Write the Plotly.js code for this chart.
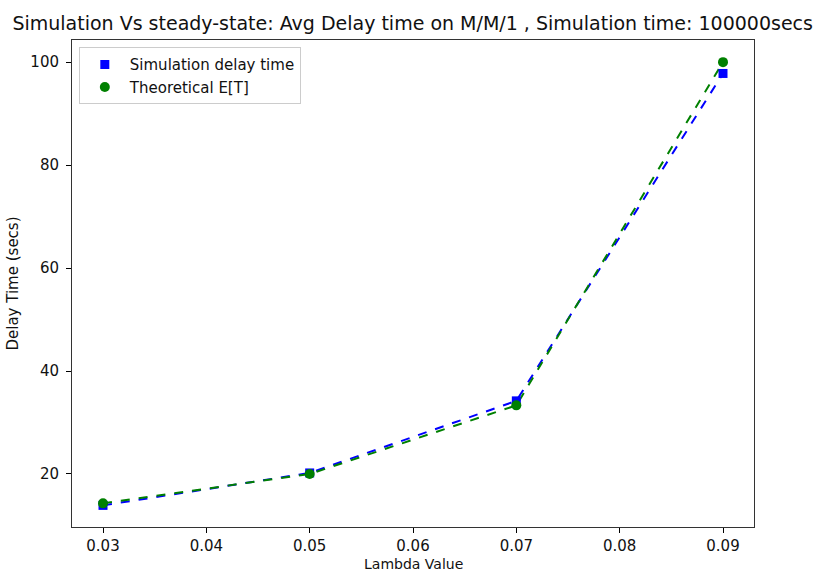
<!DOCTYPE html>
<html>
<head>
<meta charset="utf-8">
<script src="https://cdn.plot.ly/plotly-3.0.1.min.js"></script>
<style>html,body{margin:0;padding:0;background:#fff;}#chart{width:814px;height:572px;}</style>
</head>
<body>
<div id="chart"></div>
<script>
const lambdaValues = [0.03, 0.05, 0.07, 0.09];
const simulationDelay = [13.9, 20.2, 34.2, 97.8];
const theoreticalET = [14.29, 20.0, 33.33, 100.0];
const xTicks = [0.03, 0.04, 0.05, 0.06, 0.07, 0.08, 0.09];
const xTickLabels = ["0.03", "0.04", "0.05", "0.06", "0.07", "0.08", "0.09"];
const yTicks = [20, 40, 60, 80, 100];

const font = {family: "DejaVu Sans", size: 15, color: "#111"};
const traces = [
  {x: lambdaValues, y: simulationDelay, mode: "lines", line: {color: "#0000ff", width: 2, dash: "dash"}, showlegend: false, hoverinfo: "skip"},
  {x: lambdaValues, y: theoreticalET, mode: "lines", line: {color: "#008000", width: 2, dash: "dash"}, showlegend: false, hoverinfo: "skip"},
  {x: lambdaValues, y: simulationDelay, mode: "markers", name: "Simulation delay time", marker: {symbol: "square", color: "#0000ff", size: 9}},
  {x: lambdaValues, y: theoreticalET, mode: "markers", name: "Theoretical E[T]", marker: {symbol: "circle", color: "#008000", size: 10}}
];
const layout = {
  width: 814, height: 572,
  margin: {l: 72, r: 60, t: 40, b: 45},
  paper_bgcolor: "#fff", plot_bgcolor: "#fff",
  font: font,
  title: {text: "Simulation Vs steady-state: Avg Delay time on M/M/1 , Simulation time: 100000secs", font: {family: "DejaVu Sans", size: 19, color: "#111"}, x: 0.507, xanchor: "center", y: 0.96, yanchor: "middle"},
  xaxis: {range: [0.027, 0.093], tickvals: xTicks, ticktext: xTickLabels, ticks: "outside", ticklen: 5, tickcolor: "#000", showgrid: false, zeroline: false, showline: true, linecolor: "#333", linewidth: 1, mirror: true, ticklabelstandoff: 0},
  yaxis: {range: [9.7, 104.3], tickvals: yTicks, ticks: "outside", ticklen: 5, tickcolor: "#000", showgrid: false, zeroline: false, showline: true, linecolor: "#333", linewidth: 1, mirror: true, ticklabelstandoff: 4,
    title: {text: "Delay Time (secs)", font: font, standoff: 8}},
  annotations: [{text: "Lambda Value", xref: "paper", yref: "paper", x: 0.5, y: 0, xanchor: "center", yanchor: "top", yshift: -27, showarrow: false, font: {family: "DejaVu Sans", size: 14, color: "#111"}}],
  legend: {x: 0.01, y: 0.985, xanchor: "left", yanchor: "top", bgcolor: "rgba(255,255,255,0.8)", bordercolor: "#ccc", borderwidth: 1, font: font, itemwidth: 40, tracegroupgap: 0}
};
Plotly.newPlot("chart", traces, layout, {displayModeBar: false, staticPlot: true});
</script>
</body>
</html>
